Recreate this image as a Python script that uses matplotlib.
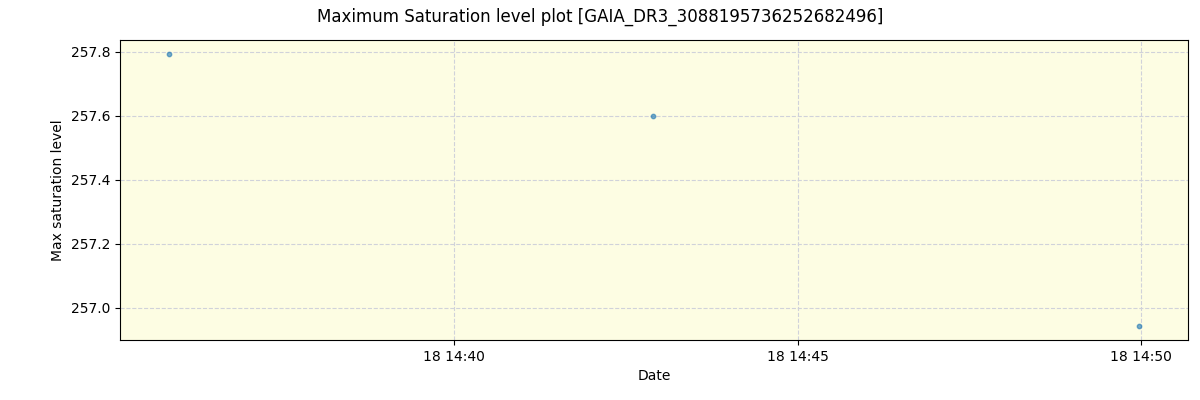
import matplotlib
matplotlib.use("Agg")
import matplotlib.pyplot as plt
import matplotlib.dates as mdates
import numpy as np
import pandas as pd

times = pd.to_datetime(["2023-03-18 14:35:51",
                        "2023-03-18 14:42:54",
                        "2023-03-18 14:49:58"])
max_sat = [257.794, 257.600, 256.944]

fig = plt.figure(figsize=(12, 4), dpi=100)
ax = fig.add_axes([0.1, 0.15, 0.89, 0.75])
ax.set_facecolor("#fdfde3")
ax.scatter(times, max_sat, s=10, color="tab:blue", alpha=0.6, zorder=3)
ax.grid(True, linestyle="--", color="#d0d2da", linewidth=0.8)
ax.set_axisbelow(True)

ax.xaxis.set_major_locator(mdates.MinuteLocator(byminute=range(0, 60, 5)))
ax.xaxis.set_major_formatter(mdates.DateFormatter("%d %H:%M"))
ax.set_xlim(pd.Timestamp("2023-03-18 14:35:08"), pd.Timestamp("2023-03-18 14:50:41"))
ax.set_ylim(256.90, 257.837)

ax.set_xlabel("Date")
ax.set_ylabel("Max saturation level")
fig.suptitle("Maximum Saturation level plot [GAIA_DR3_3088195736252682496]", y=0.98)

fig.savefig("out.png")
